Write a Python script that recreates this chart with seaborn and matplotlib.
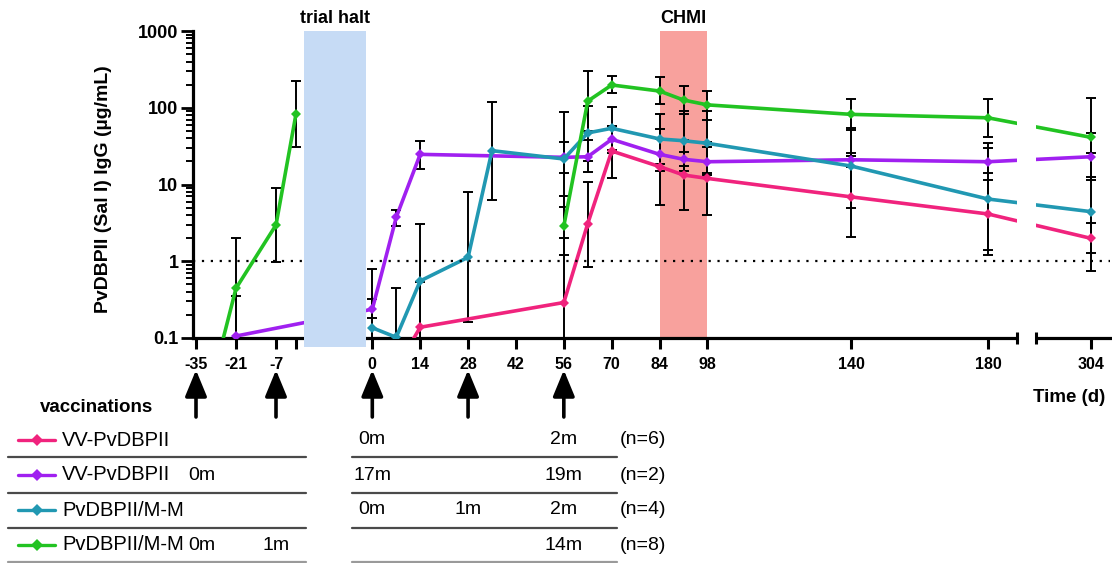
import numpy as np
import pandas as pd
import matplotlib
matplotlib.use("Agg")
import matplotlib.pyplot as plt
import matplotlib.transforms as mtransforms
from matplotlib.patches import Rectangle
from matplotlib.lines import Line2D
from matplotlib.ticker import NullFormatter, LogLocator, FixedLocator
import seaborn as sns

# ---------------- data ----------------
GROUPS = ["VV-PvDBPII (n=6)", "VV-PvDBPII (n=2)", "PvDBPII/M-M (n=4)", "PvDBPII/M-M (n=8)"]
GROUP_NAMES = ["VV-PvDBPII", "VV-PvDBPII", "PvDBPII/M-M", "PvDBPII/M-M"]
GROUP_N = ["(n=6)", "(n=2)", "(n=4)", "(n=8)"]
COLORS = ["#F0237D", "#A020F0", "#2198B2", "#22C322"]

# pre-halt section has its own local day axis (-35, -21, -7, unlabeled 0)
PRE_TICKS = [-35, -21, -7, 0]
PRE_TICK_LABELS = ["-35", "-21", "-7", ""]
MAIN_TICKS = [0, 14, 28, 42, 56, 70, 84, 98, 140, 180, 304]
MAIN_TICK_LABELS = [str(t) for t in MAIN_TICKS]

# VV-PvDBPII (n=6)
pink_days = [0, 7, 14, 56, 63, 70, 84, 91, 98, 140, 180, 304]
pink_gm = [0.02, 0.04, 0.138, 0.29, 3.1, 27.3, 17.1, 13.3, 12.0, 6.9, 4.13, 1.99]
pink_lo = [np.nan, np.nan, 0.036, 0.042, 0.85, 12.1, 5.4, 4.66, 4.0, 2.09, 1.2, 1.27]
pink_hi = [np.nan, np.nan, 0.53, 2.03, 10.7, 58.3, 52.8, 38.0, 36.1, 23.5, 14.0, 3.18]

# VV-PvDBPII (n=2)
purple_pre_days = [-21]
purple_pre_gm = [0.106]
purple_pre_lo = [0.032]
purple_pre_hi = [0.356]
purple_days = [0, 7, 14, 56, 63, 70, 84, 91, 98, 140, 180, 304]
purple_gm = [0.237, 3.74, 24.7, 22.6, 23.0, 38.8, 24.7, 21.3, 19.8, 21.0, 19.8, 23.0]
purple_lo = [0.18, 2.87, 15.9, 14.3, 14.4, 26.1, 15.0, 17.4, 13.3, 16.8, 11.4, 11.4]
purple_hi = [0.32, 4.7, 36.9, 35.5, 38.0, 57.8, 38.8, 26.7, 30.5, 25.5, 34.4, 46.5]

# PvDBPII/M-M (n=4)
teal_days = [0, 7, 14, 28, 35, 56, 63, 70, 84, 91, 98, 140, 180, 304]
teal_gm = [0.136, 0.102, 0.554, 1.125, 27.6, 21.5, 47.0, 54.0, 39.2, 37.2, 34.4, 17.4, 6.47, 4.43]
teal_lo = [0.024, 0.0225, 0.096, 0.16, 6.28, 5.14, 20.0, 28.1, 18.5, 15.1, 14.0, 4.9, 1.40, 0.75]
teal_hi = [0.785, 0.45, 3.06, 8.05, 120, 87.3, 106, 103, 83, 91.6, 91.6, 54, 29.6, 25.5]

# PvDBPII/M-M (n=8)
green_pre_days = [-35, -21, -7, 0]
green_pre_gm = [0.004, 0.444, 2.97, 83]
green_pre_lo = [np.nan, 0.099, 0.99, 31]
green_pre_hi = [np.nan, 1.99, 8.9, 223]
green_days = [56, 63, 70, 84, 91, 98, 140, 180, 304]
green_gm = [2.88, 122, 198, 165, 126, 109, 82, 74, 41.2]
green_lo = [1.2, 49.8, 154, 111, 83, 69, 52, 42, 12.6]
green_hi = [7.08, 301, 262, 250, 192, 167, 129, 130, 133]

# vaccinations
VACC_PRE = [-35, -7]
VACC_MAIN = [0, 28, 56]
SCHEDULE = [
    ["", "", "0m", "", "2m"],
    ["0m", "", "17m", "", "19m"],
    ["", "", "0m", "1m", "2m"],
    ["0m", "1m", "", "", "14m"],
]
LLOQ = 1.0

# ---------------- axis layout ----------------
PRE_SHIFT = -40          # pre-halt local day d is drawn at u = d + PRE_SHIFT
HALT_U = (-36, -3)
CHMI_U = (84, 98)
GAP_U = (188.5, 288)
AXIS_U = [-76.05, -40, -36, -3, 0, 188.5, 288, 310.2]
AXIS_PX = [193, 296, 304, 366, 372.3, 1017, 1036, 1112]

W, H = 1112, 563


def _pw(x, xs, ys):
    x = np.asarray(x, dtype=float)
    y = np.interp(x, xs, ys)
    s0 = (ys[1] - ys[0]) / (xs[1] - xs[0])
    s1 = (ys[-1] - ys[-2]) / (xs[-1] - xs[-2])
    y = np.where(x < xs[0], ys[0] + (x - xs[0]) * s0, y)
    y = np.where(x > xs[-1], ys[-1] + (x - xs[-1]) * s1, y)
    return y


def fwd(x):
    return _pw(x, AXIS_U, AXIS_PX)


def inv(p):
    return _pw(p, AXIS_PX, AXIS_U)


def fx(px):
    return px / W


def fy(py):
    return 1 - py / H


# ---------------- frame ----------------
rows = []
series = [
    (GROUPS[0], "main", pink_days, pink_gm, 0),
    (GROUPS[1], "pre", purple_pre_days, purple_pre_gm, PRE_SHIFT),
    (GROUPS[1], "main", purple_days, purple_gm, 0),
    (GROUPS[2], "main", teal_days, teal_gm, 0),
    (GROUPS[3], "pre", green_pre_days, green_pre_gm, PRE_SHIFT),
    (GROUPS[3], "main", green_days, green_gm, 0),
]
# purple pre and main are one continuous line through the trial halt
for g, seg, days, gm, shift in series:
    unit = "all" if g == GROUPS[1] else seg
    for d, v in zip(days, gm):
        rows.append(dict(group=g, segment=unit, u=d + shift, igg=v))
df = pd.DataFrame(rows)

errs = [
    (pink_days, pink_gm, pink_lo, pink_hi, 0),
    (purple_pre_days, purple_pre_gm, purple_pre_lo, purple_pre_hi, PRE_SHIFT),
    (purple_days, purple_gm, purple_lo, purple_hi, 0),
    (teal_days, teal_gm, teal_lo, teal_hi, 0),
    (green_pre_days, green_pre_gm, green_pre_lo, green_pre_hi, PRE_SHIFT),
    (green_days, green_gm, green_lo, green_hi, 0),
]

# ---------------- plot ----------------
sns.set_style("ticks")
plt.rcParams["font.family"] = ["Liberation Sans", "DejaVu Sans"]
for k in ["text.color", "axes.labelcolor", "xtick.color", "ytick.color",
          "xtick.labelcolor", "ytick.labelcolor"]:
    plt.rcParams[k] = "black"

fig = plt.figure(figsize=(W / 100, H / 100), dpi=100)
ax = fig.add_axes([fx(193), fy(338), (1110 - 193) / W, 307 / H])

sns.lineplot(data=df, x="u", y="igg", hue="group", units="segment", estimator=None,
             hue_order=GROUPS, palette=dict(zip(GROUPS, COLORS)), sort=False,
             marker="D", markersize=5.5, markeredgewidth=0, linewidth=2.6,
             legend=False, zorder=3, ax=ax)

ax.set_yscale("log")
ax.set_xscale("function", functions=(fwd, inv))
ax.set_xlim(AXIS_U[0], float(inv(1110)))
ax.set_ylim(0.1, 1000)

for days, gm, lo, hi, shift in errs:
    d = np.array(days, float) + shift
    m = np.array(gm, float)
    l = np.array(lo, float)
    h = np.array(hi, float)
    ok = ~np.isnan(l)
    ax.errorbar(d[ok], m[ok], yerr=[m[ok] - l[ok], h[ok] - m[ok]], fmt="none",
                ecolor="black", elinewidth=1.4, capsize=3.3, capthick=1.4, zorder=2.6)

ax.axhline(LLOQ, color="black", linestyle=(0, (1, 3)), linewidth=1.6, zorder=4)
ax.axvspan(*CHMI_U, color="#F8A19D", lw=0, zorder=1)

xt = ax.get_xaxis_transform()
ax.add_patch(Rectangle((HALT_U[0], -9 / 307), HALT_U[1] - HALT_U[0], 1 + 9 / 307,
                       transform=xt, color="#C6DBF5", lw=0, zorder=5, clip_on=False))
ax.add_patch(Rectangle((GAP_U[0], -0.03), GAP_U[1] - GAP_U[0], 1.03,
                       transform=xt, color="white", lw=0, zorder=3.5, clip_on=False))
for g in GAP_U:
    ax.plot([g, g], [-0.018, 0.018], transform=xt, color="black", lw=2.2,
            clip_on=False, zorder=4, solid_capstyle="butt")

ax.text(np.mean(HALT_U), 1.042, "trial halt", transform=xt, ha="center", va="center",
        fontsize=13, fontweight="bold")
ax.text(np.mean(CHMI_U), 1.042, "CHMI", transform=xt, ha="center", va="center",
        fontsize=13, fontweight="bold")

# axes styling
for s in ["top", "right"]:
    ax.spines[s].set_visible(False)
for s in ["left", "bottom"]:
    ax.spines[s].set_linewidth(2.3)
    ax.spines[s].set_color("black")

xticks = [t + PRE_SHIFT for t in PRE_TICKS] + MAIN_TICKS
xlabels = PRE_TICK_LABELS + MAIN_TICK_LABELS
ax.set_xticks(xticks, xlabels, fontweight="bold", fontsize=11.5)
ax.xaxis.set_minor_locator(FixedLocator([]))
ax.set_yticks([0.1, 1, 10, 100, 1000], ["0.1", "1", "10", "100", "1000"],
              fontweight="bold", fontsize=13)
ax.yaxis.set_minor_locator(LogLocator(base=10, subs=np.arange(2, 10)))
ax.yaxis.set_minor_formatter(NullFormatter())
ax.tick_params(axis="x", which="major", length=8, width=2.2, pad=6, color="black")
ax.tick_params(axis="y", which="major", length=9, width=2.0, pad=1.5, color="black")
ax.tick_params(axis="y", which="minor", length=5, width=1.4, color="black")
ax.set_xlabel("")
ax.set_ylabel("PvDBPII (Sal I) IgG (µg/mL)", fontsize=14, fontweight="bold")
ax.yaxis.set_label_coords((112 - 193) / 917, 0.485)

fig.text(fx(1105), fy(398), "Time (d)", ha="right", va="center", fontsize=13.5,
         fontweight="bold")

# vaccination arrows
vacc_u = [v + PRE_SHIFT for v in VACC_PRE] + VACC_MAIN
for u in vacc_u:
    ax.annotate("", xy=(u, (338 - 370) / 307), xycoords=xt,
                xytext=(u, (338 - 417) / 307), textcoords=xt,
                arrowprops=dict(arrowstyle="-|>,head_length=0.8,head_width=0.33",
                                color="black", lw=2.6, mutation_scale=20,
                                shrinkA=0, shrinkB=0),
                annotation_clip=False)
fig.text(fx(40), fy(408), "vaccinations", ha="left", va="center", fontsize=13.5,
         fontweight="bold")

# legend table
row_y = [440, 475, 510, 545]
sep_y = [457, 493, 528, 562]
bt = mtransforms.blended_transform_factory(ax.transData, fig.transFigure)
for i, y in enumerate(row_y):
    fig.add_artist(Line2D([fx(18), fx(55)], [fy(y), fy(y)], color=COLORS[i], lw=2.4,
                          transform=fig.transFigure))
    fig.add_artist(Line2D([fx(36.5)], [fy(y)], color=COLORS[i], marker="D",
                          markersize=6, markeredgewidth=0, transform=fig.transFigure))
    fig.text(fx(62), fy(y), GROUP_NAMES[i], ha="left", va="center", fontsize=14.5)
    for k, (u, lab) in enumerate(zip(vacc_u, SCHEDULE[i])):
        if lab:
            off = mtransforms.offset_copy(bt, fig=fig, x=6 if k == 0 else 0, units="dots")
            fig.text(u, fy(y), lab, transform=off, ha="center", va="center", fontsize=14)
    fig.text(fx(620), fy(y), GROUP_N[i], ha="left", va="center", fontsize=14)
for j, y in enumerate(sep_y):
    c = "#4a4a4a" if j < 3 else "#9a9a9a"
    fig.add_artist(Line2D([fx(8), fx(306)], [fy(y), fy(y)], color=c, lw=1.6,
                          transform=fig.transFigure))
    fig.add_artist(Line2D([fx(352), fx(617)], [fy(y), fy(y)], color=c, lw=1.6,
                          transform=fig.transFigure))

fig.savefig("out.png", dpi=100)
